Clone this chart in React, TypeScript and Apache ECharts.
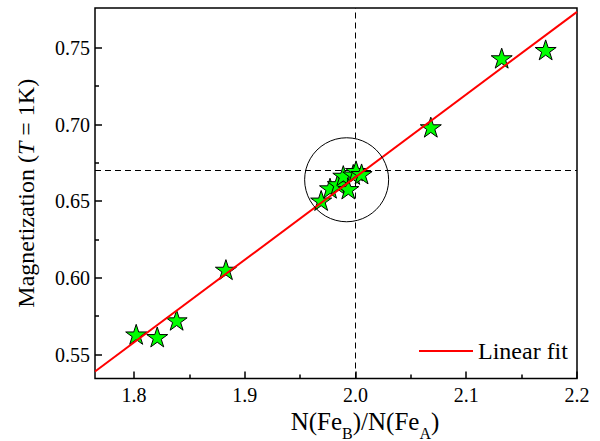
import React, { useEffect, useRef } from "react";
import * as echarts from "echarts";

// Data
const ratio = [1.802, 1.821, 1.8385, 1.883, 1.969, 1.977, 1.984, 1.989, 1.9935, 1.998, 2.0005, 2.0055, 2.068, 2.132, 2.1717];
const magnet = [0.5632, 0.5615, 0.5724, 0.6054, 0.6505, 0.6585, 0.6612, 0.6667, 0.658, 0.6675, 0.6698, 0.6678, 0.6983, 0.7433, 0.7487];

const xMajorTicks = [1.8, 1.9, 2.0, 2.1, 2.2];
const xMinorTicks = [1.85, 1.95, 2.05, 2.15];
const yMajorTicks = [0.55, 0.6, 0.65, 0.7, 0.75];
const yMinorTicks = [0.575, 0.625, 0.675, 0.725];

const xRange = [1.7648, 2.2];
const yRange = [0.5344, 0.776];

const fitSlope = 0.539;
const fitIntercept = -0.4123;

const refX = 2.0;
const refY = 2 / 3;

const circleCenter = [1.992, 0.664];

const STAR =
  "path://M50,0 L61.2,34.5 L97.6,34.5 L68.2,55.9 L79.4,90.5 L50,69.1 L20.6,90.5 L31.8,55.9 L2.4,34.5 L38.8,34.5 Z";

const FONT = "Liberation Serif";

export default function App() {
  const ref = useRef<HTMLDivElement>(null);
  useEffect(() => {
    if (!ref.current) return;
    const chart = echarts.init(ref.current, null, { renderer: "svg" });
    const fitData = xRange.map((x) => [x, fitSlope * x + fitIntercept]);
    const points = ratio.map((x, i) => [x, magnet[i]]);
    const minorAxisCommon = {
      axisLine: { show: false },
      axisLabel: { show: false },
      splitLine: { show: false },
    };
    const tickRich = { t: { fontFamily: FONT, fontSize: 20, color: "#000" } };
    chart.setOption({
      animation: false,
      backgroundColor: "#fff",
      textStyle: { fontFamily: FONT },
      grid: {
        left: 95,
        right: 23,
        top: 8,
        bottom: 62.5,
        outerBoundsMode: "none",
        containLabel: false,
        show: true,
        borderColor: "#000",
        borderWidth: 1.5,
        backgroundColor: "transparent",
      },
      legend: {
        data: [{ name: "Linear fit", icon: "rect" }],
        left: 414,
        top: 334,
        itemWidth: 54,
        itemHeight: 2,
        formatter: (n: string) => `{l|${n}}`,
        textStyle: {
          fontFamily: FONT,
          fontSize: 24,
          color: "#000",
          rich: { l: { fontFamily: FONT, fontSize: 24, color: "#000" } },
        },
      },
      xAxis: [
        {
          type: "value",
          min: xRange[0],
          max: xRange[1],
          position: "bottom",
          axisLine: { show: false },
          splitLine: { show: false },
          axisTick: {
            show: true,
            inside: true,
            length: 7,
            customValues: xMajorTicks,
            lineStyle: { color: "#000", width: 1.5 },
          },
          axisLabel: {
            customValues: xMajorTicks,
            formatter: (v: number) => `{t|${v.toFixed(1)}}`,
            color: "#000",
            fontFamily: FONT,
            fontSize: 20,
            margin: 6,
            rich: tickRich,
          },
          name: "{n|N(Fe}{s|B}{n|)/N(Fe}{s|A}{n|)}",
          nameLocation: "middle",
          nameGap: 16,
          nameTextStyle: {
            padding: [0, 0, 0, 58],
            rich: {
              n: { fontFamily: FONT, fontSize: 25, color: "#000" },
              s: { fontFamily: FONT, fontSize: 16, color: "#000", padding: [24, 0, 0, 0] },
            },
          },
        },
        {
          type: "value",
          min: xRange[0],
          max: xRange[1],
          position: "bottom",
          ...minorAxisCommon,
          axisTick: {
            show: true,
            inside: true,
            length: 4,
            customValues: xMinorTicks,
            lineStyle: { color: "#000", width: 1.5 },
          },
        },
      ],
      yAxis: [
        {
          type: "value",
          min: yRange[0],
          max: yRange[1],
          position: "left",
          axisLine: { show: false },
          splitLine: { show: false },
          axisTick: {
            show: true,
            inside: true,
            length: 7,
            customValues: yMajorTicks,
            lineStyle: { color: "#000", width: 1.5 },
          },
          axisLabel: {
            customValues: yMajorTicks,
            formatter: (v: number) => `{t|${v.toFixed(2)}}`,
            color: "#000",
            fontFamily: FONT,
            fontSize: 20,
            margin: 5,
            rich: tickRich,
          },
          name: "{n|Magnetization (}{i|T}{n| = 1K)}",
          nameLocation: "middle",
          nameGap: 57,
          nameTextStyle: {
            rich: {
              n: { fontFamily: FONT, fontSize: 24, color: "#000" },
              i: { fontFamily: FONT, fontSize: 24, color: "#000", fontStyle: "italic" },
            },
          },
        },
        {
          type: "value",
          min: yRange[0],
          max: yRange[1],
          position: "left",
          ...minorAxisCommon,
          axisTick: {
            show: true,
            inside: true,
            length: 4,
            customValues: yMinorTicks,
            lineStyle: { color: "#000", width: 1.5 },
          },
        },
      ],
      series: [
        {
          name: "Data",
          type: "scatter",
          data: points,
          symbol: STAR,
          symbolKeepAspect: true,
          symbolSize: 21,
          z: 3,
          itemStyle: { color: "#00ff00", opacity: 1, borderColor: "#000", borderWidth: 1 },
          markLine: {
            silent: true,
            symbol: ["none", "none"],
            label: { show: false },
            lineStyle: { color: "#000", width: 1, type: [6, 4] },
            data: [{ xAxis: refX }, { yAxis: refY }],
            z: 1,
          },
        },
        {
          name: "Linear fit",
          type: "line",
          data: fitData,
          showSymbol: false,
          symbol: "none",
          color: "#ff0000",
          lineStyle: { color: "#ff0000", width: 2 },
          z: 4,
        },
        {
          name: "Circle",
          type: "scatter",
          data: [circleCenter],
          symbol: "circle",
          symbolSize: 84,
          z: 5,
          itemStyle: { color: "rgba(0,0,0,0)", opacity: 1, borderColor: "#000", borderWidth: 1 },
        },
      ],
    });
    return () => chart.dispose();
  }, []);
  return (
    <div
      ref={ref}
      style={{ position: "fixed", left: 0, top: 0, width: 600, height: 441 }}
    />
  );
}
